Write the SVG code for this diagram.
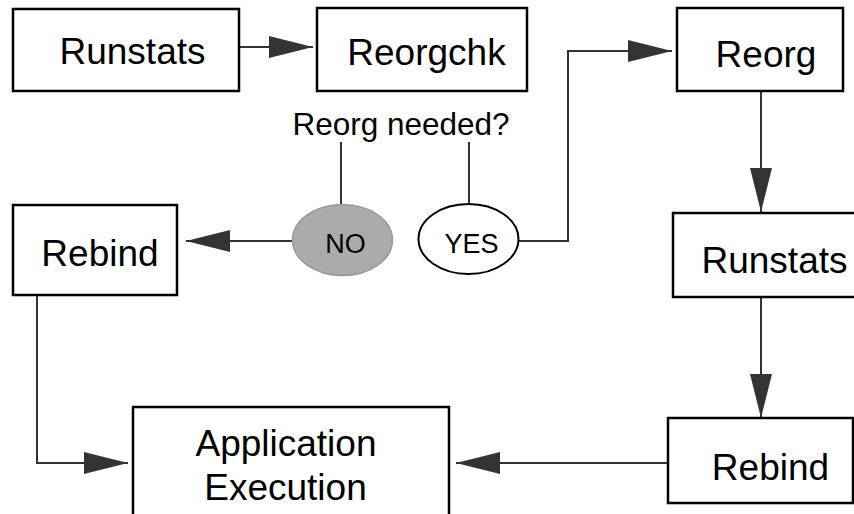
<svg xmlns="http://www.w3.org/2000/svg" width="854" height="514" viewBox="0 0 854 514">
  <defs>
    <marker id="arr" markerUnits="userSpaceOnUse" markerWidth="44" markerHeight="22" refX="44" refY="11" orient="auto" viewBox="0 0 44 22">
      <path d="M0,0 L44,11 L0,22 z" fill="#333"/>
    </marker>
  </defs>
  <style>
    .box { fill: #fff; stroke: #000; stroke-width: 2.5; }
    .lbl { font-family: "Liberation Sans", Arial, sans-serif; font-size: 37px; fill: #000; text-anchor: middle; }
    .small { font-family: "Liberation Sans", Arial, sans-serif; font-size: 27px; fill: #000; text-anchor: middle; }
    .q { font-family: "Liberation Sans", Arial, sans-serif; font-size: 31.5px; fill: #000; text-anchor: middle; }
    .con { fill: none; stroke: #333; stroke-width: 2; }
  </style>
  <rect width="854" height="514" fill="#fff"/>

  <g id="connectors">
    <line class="con" x1="239" y1="47" x2="313" y2="47" marker-end="url(#arr)"/>
    <polyline class="con" points="519,241 568,241 568,51 672,51" marker-end="url(#arr)"/>
    <line class="con" x1="293" y1="241" x2="186" y2="241" marker-end="url(#arr)"/>
    <line class="con" x1="341" y1="142" x2="341" y2="205"/>
    <line class="con" x1="469" y1="142" x2="469" y2="204"/>
    <line class="con" x1="761" y1="91" x2="761" y2="212" marker-end="url(#arr)"/>
    <line class="con" x1="761" y1="297" x2="761" y2="418" marker-end="url(#arr)"/>
    <line class="con" x1="668" y1="463" x2="456" y2="463" marker-end="url(#arr)"/>
    <polyline class="con" points="37,295 37,463 128,463" marker-end="url(#arr)"/>
  </g>

  <g id="runstats1">
    <rect class="box" x="13" y="9" width="226" height="82"/>
    <text class="lbl" x="132.5" y="64">Runstats</text>
  </g>
  <g id="reorgchk">
    <rect class="box" x="317" y="8" width="210" height="83"/>
    <text class="lbl" x="426.5" y="65">Reorgchk</text>
  </g>
  <g id="reorg">
    <rect class="box" x="677" y="8" width="166" height="83"/>
    <text class="lbl" x="766" y="67">Reorg</text>
  </g>
  <g id="question">
    <text class="q" x="401" y="135">Reorg needed?</text>
  </g>
  <g id="no">
    <ellipse cx="342.5" cy="240" rx="50" ry="35.5" fill="#ababab" stroke="#999" stroke-width="1.5"/>
    <text class="small" x="345.5" y="253">NO</text>
  </g>
  <g id="yes">
    <ellipse cx="468.5" cy="239" rx="50" ry="35" fill="#fff" stroke="#000" stroke-width="2"/>
    <text class="small" x="471.5" y="253">YES</text>
  </g>
  <g id="rebind1">
    <rect class="box" x="13" y="205" width="164" height="90"/>
    <text class="lbl" x="100" y="266">Rebind</text>
  </g>
  <g id="runstats2">
    <rect class="box" x="673" y="213" width="190" height="84"/>
    <text class="lbl" x="774.5" y="273">Runstats</text>
  </g>
  <g id="rebind2">
    <rect class="box" x="668" y="418" width="185" height="85"/>
    <text class="lbl" x="770.5" y="480">Rebind</text>
  </g>
  <g id="app">
    <rect class="box" x="133" y="407" width="316" height="130"/>
    <text class="lbl" x="286" y="456">Application</text>
    <text class="lbl" x="285.5" y="500">Execution</text>
  </g>
</svg>
